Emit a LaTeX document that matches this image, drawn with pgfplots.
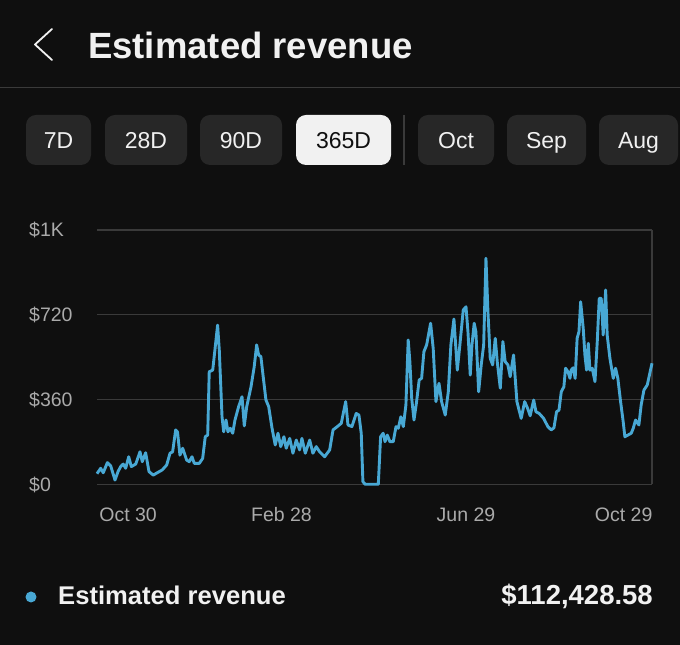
\documentclass[border=0pt]{standalone}
\usepackage{fontspec}
\setmainfont{Liberation Sans}
\usepackage{pgfplots}
\pgfplotsset{compat=1.18}
\definecolor{bg}{HTML}{0F0F0F}
\definecolor{btn}{HTML}{272727}
\definecolor{sel}{HTML}{F1F1F1}
\definecolor{txt}{HTML}{F1F1F1}
\definecolor{gridcol}{HTML}{3A3A3A}
\definecolor{labelcol}{HTML}{AAAAAA}
\definecolor{linecol}{RGB}{72,168,212}
\begin{document}
\begin{tikzpicture}[x=1pt,y=1pt]
\useasboundingbox (0,0) rectangle (680,645);
\fill[bg] (0,0) rectangle (680,645);
% header
\draw[txt, line width=1.8pt, line cap=round, line join=round] (52,616) -- (35,600.5) -- (52,585);
\node[anchor=base west, inner sep=0pt, text=txt, font=\bfseries\fontsize{36.5}{40}\selectfont] at (88,586) {Estimated revenue};
\draw[gridcol, line width=1.5pt] (0,557.5) -- (680,557.5);
% buttons
\foreach \a/\b/\t in {26/91/7D, 105/187/28D, 200/282/90D, 418/494/Oct, 507/586/Sep, 599/678/Aug}{
  \fill[btn, rounded corners=10pt] (\a,480) rectangle (\b,530);
  \node[anchor=base, inner sep=0pt, text=txt, font=\fontsize{23}{25}\selectfont] at ({(\a+\b)/2},496.8) {\t};
}
\fill[sel, rounded corners=10pt] (296,480) rectangle (391,530);
\node[anchor=base, inner sep=0pt, text=bg, font=\fontsize{23}{25}\selectfont] at (343.5,496.8) {365D};
\draw[gridcol, line width=1.5pt] (404,480) -- (404,530);
% chart
\begin{axis}[
  at={(97pt,160.7pt)}, anchor=south west,
  scale only axis, width=555pt, height=254.3pt,
  xmin=0, xmax=364, ymin=0, ymax=1080,
  axis line style={draw=none},
  ytick={0,360,720,1080}, yticklabels={\$0,\$360,\$720,\$1K},
  xtick={20.4,121,242,345.4}, xticklabels={Oct 30,Feb 28,Jun 29,Oct 29},
  major tick length=0pt,
  ymajorgrids, grid style={draw=gridcol, line width=1.3pt},
  tick label style={font=\fontsize{19.5}{21}\selectfont, text=labelcol},
  yticklabel style={anchor=base west, inner sep=0pt, xshift=-68pt, yshift=-7pt},
  xticklabel style={anchor=base, inner sep=0pt, yshift=-37.7pt},
  clip=false,
]
\draw[gridcol, line width=1.3pt] (rel axis cs:1,0) -- (rel axis cs:1,1);
\addplot[linecol, line width=2.9pt, line join=round, no marks] table {
x y
0 45
2.4 68
4.1 49
6.8 92
9.0 78
11.8 18
13.8 54
15.5 75
17.2 86
18.8 68
20.8 117
22.5 75
25.4 86
28.2 138
29.7 96
31.9 134
34.1 54
36.9 39
39.5 49
42.8 61
45.7 82
47.9 132
49.6 138
51.6 231
52.8 222
54.4 124
56.2 153
58.8 103
60.5 96
62.3 117
63.8 89
67.1 89
69.3 110
71.0 202
72.6 209
73.6 478
75.9 485
79.1 676
80.2 570
82.0 287
83.1 223
84.6 273
85.9 223
87.4 238
89.0 217
90.5 273
92.9 330
95.1 372
96.6 248
98.2 330
101.0 414
103.1 499
104.7 592
106.0 549
107.5 542
109.0 457
110.8 358
112.6 330
114.8 238
116.9 167
118.7 217
120.5 160
122.6 202
124.1 153
126.4 195
128.5 132
130.7 188
132.9 146
134.4 195
136.6 132
139.5 188
141.6 132
143.8 160
146.0 138
149.3 117
152.6 146
154.8 231
157.6 245
160.2 259
163.1 351
164.6 252
167.2 245
170.0 301
171.8 294
173.3 217
174.4 11
175.9 0
184.5 0
186.0 202
187.7 217
188.9 181
190.4 209
192.1 181
194.3 181
196.1 245
197.6 238
199.3 287
200.9 245
202.6 337
204.1 613
205.2 521
206.4 365
207.9 273
209.6 351
211.3 443
212.9 450
214.4 563
216.2 592
218.8 684
220.5 577
222.3 351
224.3 429
226.0 351
228.4 294
230.4 393
232.1 592
234.1 702
236.3 485
238.0 592
240.2 740
242.0 754
243.3 648
244.8 464
245.9 592
247.4 684
248.5 648
250.3 393
252.0 507
253.6 592
255.1 960
256.4 733
257.9 535
259.5 507
261.2 620
262.5 521
264.5 408
266.2 606
267.7 521
269.5 507
271.0 457
273.2 549
275.4 351
278.2 280
280.5 351
282.4 323
284.1 291
286.4 358
287.9 308
290.0 301
292.9 280
295.7 245
297.9 231
299.7 240
301.4 308
303.0 315
304.5 393
306.2 414
307.3 493
308.9 478
310.2 450
311.0 485
312.3 495
313.6 450
314.9 620
316.1 648
317.2 775
318.9 662
320.0 549
321.1 485
322.2 599
323.3 485
324.8 493
326.6 436
328.1 606
329.4 790
330.7 790
332.0 634
333.6 825
334.6 634
336.4 535
338.6 450
340.1 493
341.6 450
343.4 351
345.1 266
346.2 202
348.2 209
350.4 217
351.7 238
353.2 273
355.4 252
356.9 337
358.7 400
360.9 422
364 514
};
\end{axis}
% legend row
\fill[linecol] (31,48) circle (5.5);
\node[anchor=base west, inner sep=0pt, text=txt, font=\bfseries\fontsize{25.6}{28}\selectfont] at (58,40) {Estimated revenue};
\node[anchor=base east, inner sep=0pt, text=txt, font=\bfseries\fontsize{27.5}{30}\selectfont] at (653,40) {\$112,428.58};
\end{tikzpicture}
\end{document}
